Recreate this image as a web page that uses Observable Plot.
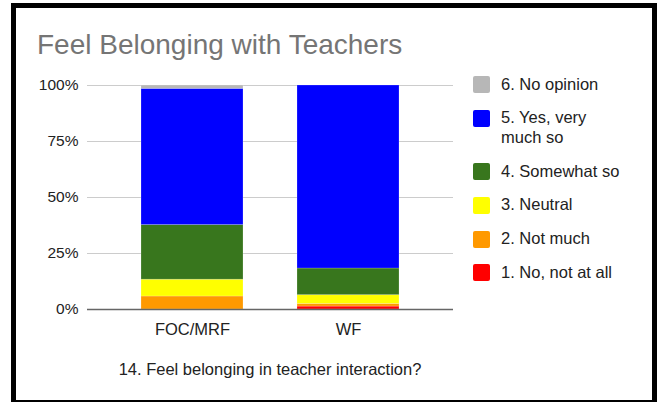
<!DOCTYPE html>
<html>
<head>
<meta charset="utf-8">
<script src="https://cdn.jsdelivr.net/npm/d3@7"></script>
<script src="https://cdn.jsdelivr.net/npm/@observablehq/plot@0.6"></script>
<style>
  html, body { margin: 0; padding: 0; background: #fff; }
  #wrap { position: relative; width: 660px; height: 402px; overflow: hidden; font-family: "Liberation Sans", Arial, sans-serif; }
  #frame { position: absolute; left: 11px; top: 3px; width: 646px; height: 402px; border: 5px solid #000; box-sizing: border-box; pointer-events: none; }
  #chart { position: absolute; left: 0; top: 0; }
  #title { position: absolute; left: 37px; top: 30.5px; font-size: 28px; line-height: 28px; color: #757575; white-space: nowrap; }
  #caption { position: absolute; left: 0; width: 540px; top: 361px; font-size: 16.5px; line-height: 16.5px; color: #222; text-align: center; white-space: nowrap; }
  #legend { position: absolute; left: 473px; top: 74.5px; display: flex; flex-direction: column; gap: 14px; }
  .item { display: flex; align-items: flex-start; }
  .sw { width: 17px; height: 17px; border-radius: 2px; margin-top: 1.5px; margin-right: 11px; flex: none; }
  .lab { width: 124px; font-size: 16.5px; line-height: 19.7px; color: #222; }
</style>
</head>
<body>
<div id="wrap">
  <div id="chart"></div>
  <div id="title">Feel Belonging with Teachers</div>
  <div id="caption">14. Feel belonging in teacher interaction?</div>
  <div id="legend"></div>
  <div id="frame"></div>
</div>
<script>
const groups = ["FOC/MRF", "WF"];
const answers = ["1. No, not at all", "2. Not much", "3. Neutral", "4. Somewhat so", "5. Yes, very much so", "6. No opinion"];
const focMrf = [0, 5.8, 7.5, 24.4, 60.8, 1.5];
const wf = [1.3, 1.2, 3.9, 11.9, 81.7, 0];
const colors = ["#ff0000", "#ff9900", "#ffff00", "#38761d", "#0000ff", "#b7b7b7"];
const yTicks = [0, 25, 50, 75, 100];

const seriesByGroup = [focMrf, wf];
const rows = [];
groups.forEach((g, gi) => {
  answers.forEach((a, ai) => {
    rows.push({group: g, answer: a, value: seriesByGroup[gi][ai]});
  });
});

const chart = Plot.plot({
  width: 660,
  height: 402,
  marginLeft: 87,
  marginRight: 207,
  marginTop: 85,
  marginBottom: 93,
  style: {fontFamily: "'Liberation Sans', Arial, sans-serif", background: "transparent", color: "#222"},
  x: {domain: groups, padding: 0.345, label: null},
  y: {domain: [0, 100], label: null},
  color: {domain: answers, range: colors},
  marks: [
    Plot.gridY(yTicks, {stroke: "#cccccc", strokeOpacity: 1, strokeWidth: 1}),
    Plot.barY(rows, {
      x: "group",
      y: "value",
      z: "answer",
      fill: "answer",
      order: answers,
      stroke: "#ffffff",
      strokeOpacity: 0.25,
      strokeWidth: 0.8
    }),
    Plot.ruleY([0], {stroke: "#666666", strokeWidth: 1.5}),
    Plot.axisY(yTicks, {tickSize: 0, tickPadding: 9, fontSize: 15.5, tickFormat: d => d + "%", label: null, fill: "#222"}),
    Plot.axisX({tickSize: 0, tickPadding: 13.3, fontSize: 16.5, label: null, fill: "#222"})
  ]
});
document.getElementById("chart").appendChild(chart);

const legend = document.getElementById("legend");
answers.slice().reverse().forEach((a) => {
  const i = answers.indexOf(a);
  const item = document.createElement("div");
  item.className = "item";
  const sw = document.createElement("div");
  sw.className = "sw";
  sw.style.background = colors[i];
  const lab = document.createElement("div");
  lab.className = "lab";
  lab.textContent = a;
  item.appendChild(sw);
  item.appendChild(lab);
  legend.appendChild(item);
});
</script>
</body>
</html>
